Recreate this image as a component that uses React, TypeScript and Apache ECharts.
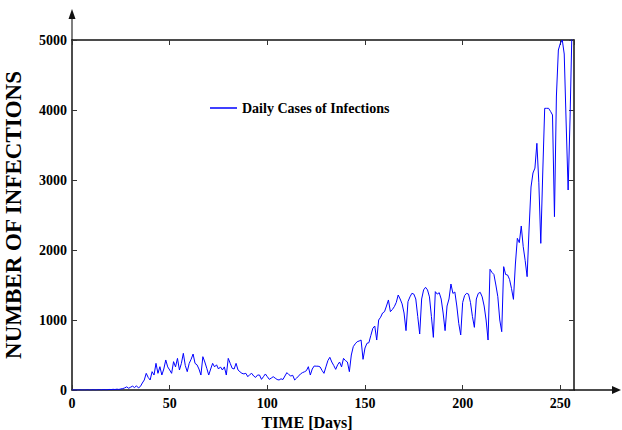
import React, { useEffect, useRef } from "react";
import * as echarts from "echarts";

// Daily cases, day 0 .. 256
const cases0to49 = [
  0, 0, 0, 0, 2, 0, 1, 0, 3, 0, 2, 4, 1, 3, 5, 2, 6, 4, 3, 8, 5, 10, 7, 12, 8, 15,
  20, 30, 45, 25, 40, 55, 35, 60, 30, 50, 100, 143, 238, 180, 143, 262, 214, 381, 238, 333,
  214, 300, 429, 330,
];
const cases50to99 = [
  286, 238, 405, 330, 452, 286, 380, 524, 350, 262, 380, 440, 514, 380, 360, 300, 214, 476,
  400, 310, 214, 300, 381, 330, 360, 300, 330, 286, 330, 214, 452, 381, 310, 300, 381, 286,
  260, 238, 230, 238, 190, 220, 238, 200, 180, 214, 214, 152, 190, 229,
];
const cases100to149 = [
  190, 152, 170, 190, 170, 150, 143, 160, 150, 200, 248, 220, 200, 210, 143, 170, 200, 230,
  248, 260, 276, 333, 214, 300, 343, 340, 340, 330, 280, 238, 330, 420, 467, 400, 350, 295,
  360, 400, 330, 452, 420, 400, 262, 500, 619, 660, 690, 700, 714, 438,
];
const cases150to199 = [
  600, 667, 676, 780, 881, 914, 714, 1000, 1040, 1100, 1119, 1200, 1286, 1119, 1150, 1190,
  1250, 1357, 1300, 1230, 1100, 848, 1262, 1330, 1381, 1370, 1300, 1050, 800, 1300, 1430,
  1467, 1430, 1330, 1050, 752, 1405, 1370, 1390, 1300, 1100, 848, 1200, 1300, 1514, 1380,
  1400, 1200, 950, 786,
];
const cases200to256 = [
  1250, 1350, 1381, 1370, 1250, 1050, 895, 1300, 1380, 1395, 1330, 1200, 1000, 714, 1724,
  1680, 1650, 1500, 1333, 1000, 833, 1762, 1650, 1643, 1580, 1450, 1295, 1800, 2167, 2105,
  2343, 2048, 1850, 1619, 2300, 2900, 3100, 3170, 3524, 2960, 2095, 3100, 4024, 4024, 4024,
  3980, 3929, 2476, 4200, 4857, 4952, 5000, 4800, 3800, 2857, 3900, 5200,
];
const dailyCases = [
  ...cases0to49,
  ...cases50to99,
  ...cases100to149,
  ...cases150to199,
  ...cases200to256,
];

const xMin = 0;
const xMax = 257;
const xInterval = 50;
const yMin = 0;
const yMax = 5000;
const yInterval = 1000;

const seriesName = "Daily Cases of Infections";
const xTitle = "TIME [Days]";
const yTitle = "NUMBER OF INFECTIONS";

const FONT = "'Liberation Serif', 'Times New Roman', serif";

export default function App() {
  const ref = useRef<HTMLDivElement>(null);

  useEffect(() => {
    document.body.style.margin = "0";
    if (!ref.current) return;
    const chart = echarts.init(ref.current, null, { renderer: "svg" });

    const W = 622;
    const H = 430;
    const gl = 72;
    const gr = 48;
    const gt = 40;
    const gb = 40;
    const axisColor = "#111";
    const tickColor = "#333";

    const labelStyle = {
      color: "#000",
      fontFamily: FONT,
      fontWeight: "bold" as const,
      fontSize: 14,
    };

    const data = dailyCases.map((v, i) => [i, v]);

    const plotRight = W - gr;
    const plotBottom = H - gb;
    const plain = (v: number) => String(v);

    chart.setOption({
      animation: false,
      backgroundColor: "#fff",
      grid: {
        left: gl,
        right: gr,
        top: gt,
        bottom: gb,
        containLabel: false,
        outerBoundsMode: "none",
      },
      legend: {
        left: 205,
        top: 96,
        icon: "rect",
        itemWidth: 27,
        itemHeight: 1.5,
        textStyle: { ...labelStyle, fontSize: 14 },
        data: [seriesName],
      },
      xAxis: [
        {
          type: "value",
          min: xMin,
          max: xMax,
          interval: xInterval,
          position: "bottom",
          name: xTitle,
          nameLocation: "middle",
          nameGap: 21,
          nameTextStyle: {
            ...labelStyle,
            fontSize: 16,
            padding: [0, 32, 0, 0],
          },
          axisLine: { show: true, onZero: false, lineStyle: { color: axisColor, width: 1.5 } },
          axisTick: { show: true, inside: true, length: 5, lineStyle: { color: tickColor } },
          axisLabel: { ...labelStyle, margin: 6, showMaxLabel: false, formatter: plain },
          splitLine: { show: false },
        },
        {
          type: "value",
          min: xMin,
          max: xMax,
          interval: xInterval,
          position: "top",
          axisLine: { show: true, onZero: false, lineStyle: { color: axisColor, width: 1.5 } },
          axisTick: { show: true, inside: true, length: 5, lineStyle: { color: tickColor } },
          axisLabel: { show: false },
          splitLine: { show: false },
        },
      ],
      yAxis: [
        {
          type: "value",
          min: yMin,
          max: yMax,
          interval: yInterval,
          position: "left",
          name: yTitle,
          nameLocation: "middle",
          nameRotate: 90,
          nameGap: 47,
          nameTextStyle: { ...labelStyle, fontSize: 23 },
          axisLine: { show: true, onZero: false, lineStyle: { color: axisColor, width: 1.5 } },
          axisTick: { show: true, inside: true, length: 5, lineStyle: { color: tickColor } },
          axisLabel: { ...labelStyle, margin: 5, formatter: plain },
          splitLine: { show: false },
        },
        {
          type: "value",
          min: yMin,
          max: yMax,
          interval: yInterval,
          position: "right",
          axisLine: { show: true, onZero: false, lineStyle: { color: axisColor, width: 1.5 } },
          axisTick: { show: true, inside: true, length: 5, lineStyle: { color: tickColor } },
          axisLabel: { show: false },
          splitLine: { show: false },
        },
      ],
      series: [
        {
          name: seriesName,
          type: "line",
          xAxisIndex: 0,
          yAxisIndex: 0,
          data,
          showSymbol: false,
          symbol: "none",
          clip: true,
          lineStyle: { color: "#0000ff", width: 1 },
          itemStyle: { color: "#0000ff" },
        },
      ],
      graphic: [
        {
          type: "line",
          shape: { x1: plotRight, y1: plotBottom, x2: W - 6, y2: plotBottom },
          style: { stroke: axisColor, lineWidth: 1.5 },
        },
        {
          type: "polygon",
          shape: {
            points: [
              [W - 1, plotBottom],
              [W - 10, plotBottom - 4],
              [W - 10, plotBottom + 4],
            ],
          },
          style: { fill: axisColor },
        },
        {
          type: "line",
          shape: { x1: gl, y1: gt, x2: gl, y2: 16 },
          style: { stroke: "#555", lineWidth: 1.5 },
        },
        {
          type: "polygon",
          shape: {
            points: [
              [gl, 9],
              [gl - 3.5, 19],
              [gl + 3.5, 19],
            ],
          },
          style: { fill: "#111" },
        },
      ],
    });

    return () => chart.dispose();
  }, []);

  return (
    <div
      ref={ref}
      style={{ position: "fixed", left: 0, top: 0, width: 622, height: 430 }}
    />
  );
}
